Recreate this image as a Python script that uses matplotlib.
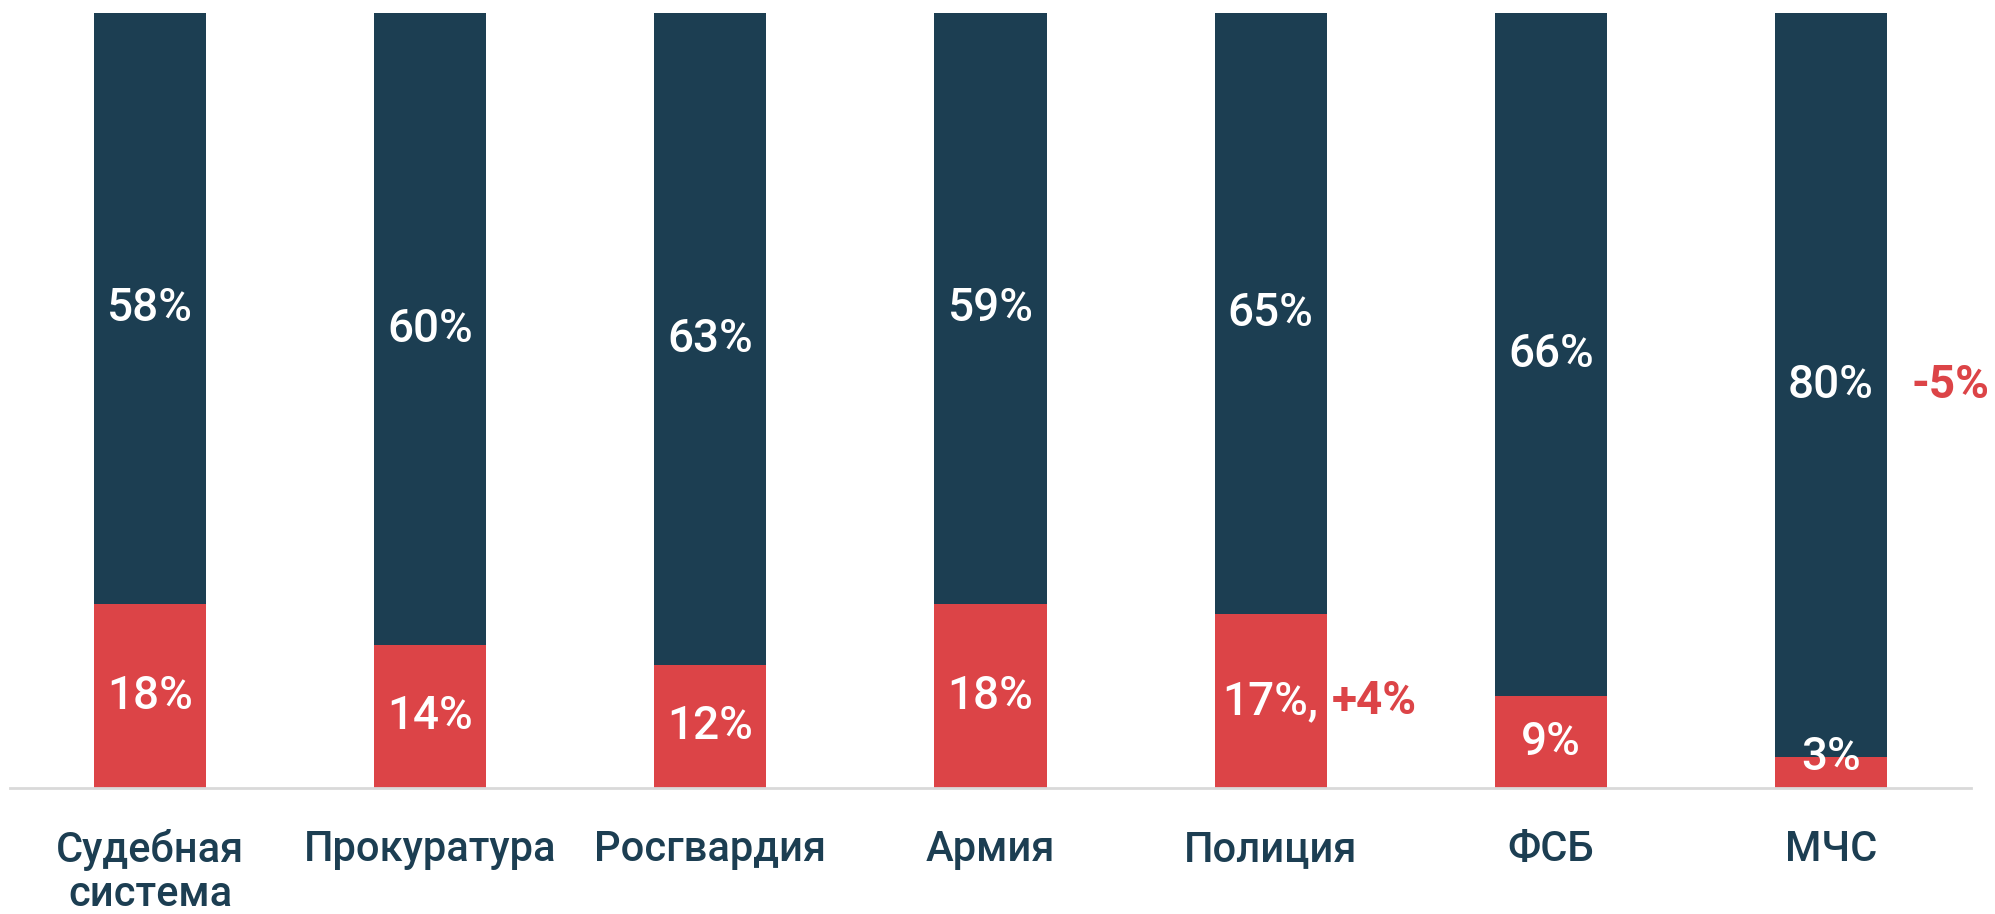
import matplotlib
matplotlib.use("Agg")
import matplotlib.pyplot as plt
import numpy as np

categories = ["Судебная\nсистема", "Прокуратура", "Росгвардия", "Армия", "Полиция", "ФСБ", "МЧС"]
red_vals = [18, 14, 12, 18, 17, 9, 3]
blue_vals = [58, 60, 63, 59, 65, 66, 80]
red_labels = ["18%", "14%", "12%", "18%", "17%,", "9%", "3%"]
blue_labels = ["58%", "60%", "63%", "59%", "65%", "66%", "80%"]
changes = {4: ("+4%", "red"), 6: ("-5%", "blue")}

BLUE = "#1c3e52"
RED = "#dc4447"
YTOP = 76

plt.rcParams['font.family'] = ['Roboto', 'DejaVu Sans']

fig = plt.figure(figsize=(19.95, 9.14), dpi=100)
ax = fig.add_axes([0.005, 0.1383, 0.983, 0.848])
x = np.arange(len(categories))
w = 0.40
# blue column spans the full visible height; red segment drawn at the bottom
ax.bar(x, [max(YTOP, r + b) for r, b in zip(red_vals, blue_vals)], width=w, color=BLUE, edgecolor='none')
ax.bar(x, red_vals, width=w, color=RED, edgecolor='none')
ax.set_xlim(-0.5, 6.5)
ax.set_ylim(0, YTOP)

for i in range(len(categories)):
    r = red_vals[i]
    ry = max(r / 2, 3)
    ax.text(x[i], ry, red_labels[i], color='white', ha='center', va='center',
            fontsize=33, fontweight='medium')
    by = (r + YTOP) / 2
    ax.text(x[i], by, blue_labels[i], color='white', ha='center', va='center',
            fontsize=33, fontweight='medium')

for i, (txt, where) in changes.items():
    r = red_vals[i]
    y = r / 2 if where == "red" else (r + YTOP) / 2
    xoff = 5 if where == "red" else 24
    ax.annotate(txt, xy=(x[i] + w / 2, y), xytext=(xoff * 0.72, 0), textcoords='offset points',
                color=RED, ha='left', va='center', fontsize=33, fontweight='bold',
                annotation_clip=False)

for s in ['top', 'right', 'left']:
    ax.spines[s].set_visible(False)
ax.spines['bottom'].set_color('#d9d9d9')
ax.spines['bottom'].set_linewidth(2)
ax.set_yticks([])
ax.set_xticks(x)
ax.set_xticklabels(categories, fontsize=30, color=BLUE, fontweight='medium', linespacing=1.1, va='top')
ax.tick_params(axis='x', length=0, pad=30)

fig.savefig("out.png", dpi=100, facecolor='white')
